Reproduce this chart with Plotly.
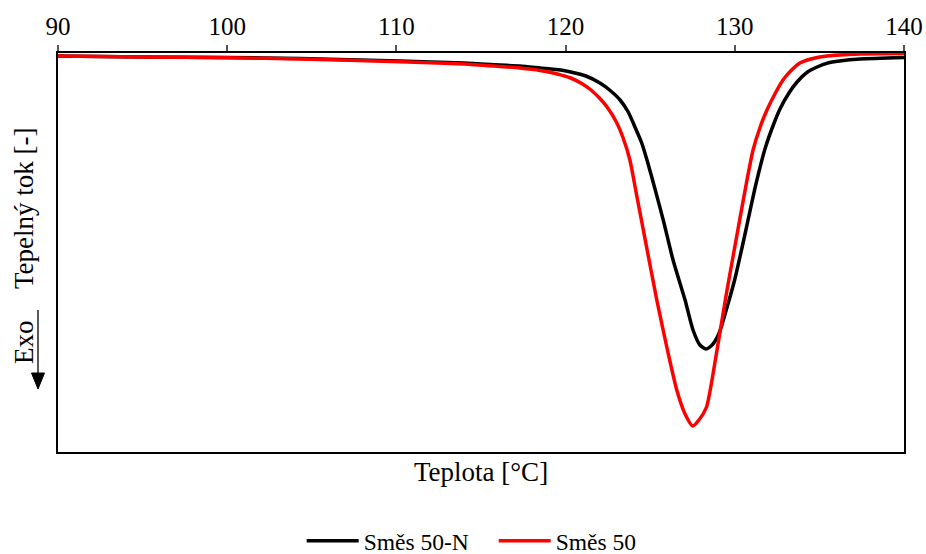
import plotly.graph_objects as go

# Temperature [°C] and heat flow [-] (arbitrary units, exo down)
temp_50N = [90.0, 95.0, 100.0, 104.3, 110.2, 114.0, 116.1, 117.3, 118.5, 119.7, 120.3, 121.2,
            122.03, 122.6, 123.22, 123.7, 124.1, 124.5, 124.81, 125.3, 125.8, 126.35, 127.06,
            127.53, 127.94, 128.3, 128.6, 128.84, 129.1, 129.58, 129.99, 130.58, 131.0, 131.25,
            131.8, 132.3, 132.67, 133.2, 133.68, 134.3, 134.86, 135.5, 136.2, 137.4, 140.0]
flow_50N = [-0.03, -0.04, -0.045, -0.055, -0.08, -0.10, -0.12, -0.13, -0.15, -0.17, -0.19, -0.23,
            -0.30, -0.37, -0.47, -0.59, -0.74, -0.90, -1.07, -1.37, -1.69, -2.07, -2.47,
            -2.77, -2.92, -2.96, -2.93, -2.88, -2.79, -2.52, -2.27, -1.83, -1.50, -1.31,
            -0.95, -0.71, -0.56, -0.40, -0.29, -0.19, -0.14, -0.10, -0.08, -0.06, -0.045]

temp_50 = [90.0, 95.0, 100.0, 104.3, 110.2, 114.0, 116.1, 117.3, 118.5, 119.5, 120.3, 121.0,
           121.5, 122.0, 122.45, 123.0, 123.4, 123.8, 124.22, 124.99, 125.39, 125.98, 126.57,
           127.06, 127.51, 127.88, 128.33, 128.92, 129.51, 130.18, 130.72, 131.08, 131.5,
           131.9, 132.4, 132.85, 133.3, 133.85, 134.5, 135.45, 137.4, 140.0]
flow_50 = [-0.03, -0.04, -0.047, -0.06, -0.087, -0.11, -0.135, -0.15, -0.175, -0.21, -0.25, -0.31,
           -0.37, -0.45, -0.54, -0.69, -0.85, -1.07, -1.44, -2.12, -2.47, -2.94, -3.37,
           -3.61, -3.73, -3.67, -3.54, -3.00, -2.40, -1.77, -1.27, -0.97, -0.74,
           -0.57, -0.40, -0.27, -0.18, -0.10, -0.06, -0.03, -0.01, -0.005]

x_ticks = [90, 100, 110, 120, 130, 140]

FONT = "Liberation Serif"

fig = go.Figure()
fig.add_trace(go.Scatter(x=temp_50N, y=flow_50N, mode="lines", name="Směs 50-N",
                         line=dict(color="black", width=3.5, shape="spline", smoothing=0.6)))
fig.add_trace(go.Scatter(x=temp_50, y=flow_50, mode="lines", name="Směs 50",
                         line=dict(color="#ff0000", width=3.5, shape="spline", smoothing=0.6)))

fig.update_layout(
    width=926, height=554,
    margin=dict(l=58, r=22, t=53, b=102, autoexpand=False),
    paper_bgcolor="white", plot_bgcolor="white",
    font=dict(family=FONT, size=25, color="black"),
    showlegend=True,
    legend=dict(orientation="h", x=0.515, xanchor="center", y=-0.223, yanchor="middle",
                font=dict(family=FONT, size=23.5), itemwidth=52, tracegroupgap=0,
                entrywidth=125, entrywidthmode="pixels"),
    xaxis=dict(range=[90, 140], side="top", tickvals=x_ticks, ticks="outside", ticklen=6,
               tickcolor="#555555", tickwidth=1.5, showgrid=False, zeroline=False,
               showline=True, linecolor="black", linewidth=1.5, mirror=True, automargin=False,
               tickfont=dict(family=FONT, size=25)),
    yaxis=dict(range=[-3.99, 0], showticklabels=False, ticks="", showgrid=False, zeroline=False,
               showline=True, linecolor="black", linewidth=2, mirror=True, automargin=False),
)

# Axis titles as annotations
fig.add_annotation(text="Teplota [°C]", xref="paper", yref="paper", x=0.5, y=-0.05,
                   xanchor="center", yanchor="middle", showarrow=False,
                   font=dict(family=FONT, size=27))
fig.add_annotation(text="Tepelný tok [-]", xref="paper", yref="paper", x=-0.0402, y=0.6115,
                   xanchor="center", yanchor="middle", textangle=-90, showarrow=False,
                   font=dict(family=FONT, size=27))
fig.add_annotation(text="Exo", xref="paper", yref="paper", x=-0.0402, y=0.2757,
                   xanchor="center", yanchor="middle", textangle=-90, showarrow=False,
                   font=dict(family=FONT, size=27))

# Exo arrow (line + triangular head)
def px2paper_x(p):
    return (p - 58) / 846.0

def px2paper_y(p):
    return (452 - p) / 399.0

fig.add_shape(type="line", xref="paper", yref="paper",
              x0=px2paper_x(38), x1=px2paper_x(38), y0=px2paper_y(310), y1=px2paper_y(375),
              line=dict(color="black", width=1.3))
fig.add_shape(type="path", xref="paper", yref="paper",
              path="M {a},{b} L {c},{b} L {d},{e} Z".format(
                  a=px2paper_x(31.5), b=px2paper_y(373), c=px2paper_x(44.5),
                  d=px2paper_x(38), e=px2paper_y(389)),
              fillcolor="black", line=dict(color="black", width=1))

fig.write_html("out.html", config={"displayModeBar": False},
               post_script="document.body.style.margin='0px';document.body.style.overflow='hidden';")
